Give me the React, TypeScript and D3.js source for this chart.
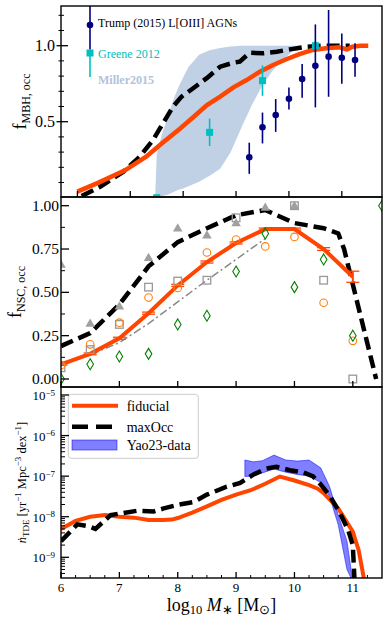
import React from "react";
import * as d3 from "d3";

// top panel: MBH occupation fraction
const fidMbhX = [6.0, 6.4, 6.9, 7.3, 7.6, 7.95, 8.2, 8.45, 8.7, 8.95, 9.2, 9.45, 9.7, 9.95, 10.2, 10.45, 10.7, 10.95, 11.1, 11.2, 11.35, 11.5];
const fidMbhY = [0.04, 0.099, 0.18, 0.27, 0.358, 0.457, 0.533, 0.61, 0.665, 0.726, 0.774, 0.829, 0.873, 0.911, 0.945, 0.972, 0.983, 0.99, 0.976, 0.993, 1.0, 1.0];
const maxMbhX = [6.08, 6.43, 6.87, 7.18, 7.43, 7.62, 7.81, 7.97, 8.19, 8.44, 8.7, 8.95, 9.07, 9.26, 9.51, 9.77, 10.02, 10.33, 10.65, 11.15];
const maxMbhY = [0.011, 0.072, 0.171, 0.27, 0.38, 0.49, 0.6, 0.665, 0.72, 0.785, 0.862, 0.888, 0.895, 0.954, 0.95, 0.96, 0.976, 0.993, 1.0, 1.0];

const millerX = [7.47, 7.5, 7.6, 7.7, 7.8, 7.9, 8.0, 8.1, 8.2, 8.3, 8.5, 8.7, 8.9, 9.1, 9.3, 9.5, 9.7, 9.9, 10.1, 10.25];
const millerLo = [0, 0, 0.01, 0.02, 0.035, 0.05, 0.06, 0.075, 0.09, 0.105, 0.145, 0.19, 0.3, 0.46, 0.61, 0.74, 0.84, 0.91, 0.975, 1.0];
const millerHi = [0, 0.28, 0.42, 0.52, 0.63, 0.72, 0.79, 0.86, 0.9, 0.94, 0.97, 0.985, 0.995, 1.0, 1.0, 1.0, 1.0, 1.0, 1.0, 1.0];

const greeneX = [7.5, 8.5, 9.5, 10.5];
const greeneY = [0.0, 0.43, 0.77, 1.0];
const greeneErr = [0.0, 0.09, 0.1, 0.03];

const trumpX = [9.25, 9.5, 9.75, 10.0, 10.25, 10.5, 10.75, 11.0, 11.25];
const trumpY = [0.266, 0.463, 0.544, 0.651, 0.781, 0.868, 0.928, 0.921, 0.906];
const trumpLo = [0.157, 0.357, 0.433, 0.58, 0.658, 0.594, 0.664, 0.75, 0.796];
const trumpHi = [0.362, 0.56, 0.649, 0.725, 0.88, 1.14, 1.235, 1.08, 1.016];

// middle panel: NSC occupation fraction
const nscX = [6.0, 6.5, 7.0, 7.5, 8.0, 8.5, 9.0, 9.5, 10.0, 10.5, 11.0];
const fidNsc = [0.085, 0.145, 0.235, 0.38, 0.54, 0.675, 0.785, 0.865, 0.865, 0.75, 0.59];
const fidNscErr = [0.005, 0.005, 0.006, 0.006, 0.006, 0.006, 0.006, 0.006, 0.006, 0.008, 0.032];
const maxNscX = [6.0, 6.5, 7.0, 7.5, 8.0, 8.5, 9.0, 9.5, 10.0, 10.5, 10.75, 10.85, 11.4];
const maxNscY = [0.19, 0.265, 0.43, 0.65, 0.79, 0.87, 0.945, 0.975, 0.9, 0.87, 0.84, 0.75, 0.0];
const greyX = [6.0, 6.5, 7.0, 7.5, 8.0, 8.5, 9.0, 9.5];
const greyY = [0.08, 0.14, 0.21, 0.32, 0.445, 0.57, 0.69, 0.81];

const triX = [6.0, 6.5, 7.0, 7.5, 8.0, 8.5, 9.0, 9.5, 10.0];
const triY = [0.66, 0.32, 0.42, 0.7, 0.87, 0.83, 0.9, 0.99, 1.0];
const sqX = [6.0, 6.5, 7.0, 7.5, 8.0, 8.5, 9.0, 10.0, 10.5, 11.0];
const sqY = [0.065, 0.17, 0.315, 0.53, 0.565, 0.57, 0.93, 1.0, 0.57, 0.0];
const circX = [6.0, 6.5, 7.0, 7.5, 8.0, 8.5, 9.0, 9.5, 10.0, 10.5, 11.0];
const circY = [0.08, 0.2, 0.325, 0.47, 0.525, 0.73, 0.805, 0.765, 0.82, 0.44, 0.22];
const diaX = [6.0, 6.5, 7.0, 7.5, 8.0, 8.5, 9.0, 9.5, 10.0, 10.5, 11.0, 11.5];
const diaY = [0.0, 0.085, 0.13, 0.145, 0.315, 0.365, 0.62, 0.84, 0.53, 0.69, 0.25, 1.0];

// bottom panel: TDE rate
const fidTdeX = [6.0, 6.25, 6.5, 6.75, 7.0, 7.25, 7.5, 7.75, 7.9, 8.0, 8.25, 8.5, 8.75, 9.0, 9.25, 9.5, 9.75, 10.0, 10.25, 10.4, 10.5, 10.75, 11.0, 11.1, 11.2];
const fidTdeY = [5.0e-9, 7.9e-9, 1.0e-8, 1.1e-8, 1.0e-8, 9.5e-9, 8.3e-9, 8.3e-9, 8.5e-9, 9.3e-9, 1.26e-8, 1.8e-8, 2.6e-8, 3.5e-8, 4.5e-8, 6.5e-8, 9.8e-8, 7.8e-8, 6.0e-8, 4.9e-8, 3.8e-8, 1.6e-8, 4.3e-9, 1.5e-9, 2.5e-10];
const maxTdeX = [6.0, 6.28, 6.48, 6.59, 6.85, 7.3, 7.59, 7.76, 7.99, 8.27, 8.5, 8.84, 9.07, 9.3, 9.52, 9.69, 9.92, 10.15, 10.32, 10.46, 10.61, 10.78, 10.92, 11.0, 11.03];
const maxTdeY = [2.5e-9, 6.5e-9, 5.8e-9, 5.0e-9, 1.1e-8, 1.4e-8, 1.35e-8, 1.6e-8, 1.95e-8, 2.3e-8, 3.5e-8, 5.5e-8, 6.8e-8, 1.1e-7, 1.55e-7, 1.7e-7, 1.4e-7, 1.25e-7, 9.8e-8, 6.0e-8, 3.2e-8, 1.23e-8, 4.7e-9, 2.0e-9, 2.5e-10];
const yaoX = [9.15, 9.3, 9.45, 9.65, 9.85, 10.05, 10.25, 10.45, 10.6, 10.75, 10.9, 11.0];
const yaoHi = [2.5e-7, 2.25e-7, 2.4e-7, 3.3e-7, 2.5e-7, 2.35e-7, 2.5e-7, 1.6e-7, 5.6e-8, 1.1e-8, 2.5e-9, 2.5e-10];
const yaoLo = [9.8e-8, 1.0e-7, 1.2e-7, 1.5e-7, 1.25e-7, 1.1e-7, 1.0e-7, 7.0e-8, 3.2e-8, 6.3e-9, 5.0e-10, 2.5e-10];

const xTickVals = [6, 7, 8, 9, 10, 11];
const midTicks = [0, 0.25, 0.5, 0.75, 1.0];
const botTicks = [1e-9, 1e-8, 1e-7, 1e-6, 1e-5];
const botTickExp = ["−9", "−8", "−7", "−6", "−5"];

const FONT = "'Liberation Serif', 'Times New Roman', serif";
const ORANGE = "#ff4500";
const L = 61, R = 382;
const T1 = 6, B1 = 197, T2 = 197, B2 = 387, T3 = 387, B3 = 578;

const xTop = d3.scaleLinear().domain([5.69, 11.76]).range([L, R]);
const yTop = d3.scaleLinear().domain([0, 1]).range([197.7, 45.7]);
const xMain = d3.scaleLinear().domain([6, 11.5]).range([L, R]);
const yMid = d3.scaleLinear().domain([0, 1]).range([379, 205.7]);
const yBot = d3.scaleLog().domain([1e-9, 1e-5]).range([557.3, 395]);

const zip = (a: number[], b: number[]) => a.map((v, i) => [v, b[i]] as [number, number]);

const mkLine = (xs: any, ys: any) =>
  d3.line<[number, number]>().x((d) => xs(d[0])).y((d) => ys(d[1]));

const mkArea = (xs: any, ys: any) =>
  d3.area<[number, number, number]>().x((d) => xs(d[0])).y0((d) => ys(d[1])).y1((d) => ys(d[2]));

export default function App() {
  const lineTop = mkLine(xTop, yTop);
  const lineMid = mkLine(xMain, yMid);
  const lineBot = mkLine(xMain, yBot);

  const millerData = millerX.map((x, i) => [x, millerLo[i], millerHi[i]] as [number, number, number]);
  const yaoData = yaoX.map((x, i) => [x, yaoLo[i], yaoHi[i]] as [number, number, number]);

  const midMinor = d3.range(0.125, 1, 0.25);
  const topMinor = d3.range(1, 13).map((v) => v / 10).filter((v) => v !== 0.5 && v !== 1.0);
  const botMinor: number[] = [];
  for (let e = -10; e < -5; e++) for (let m = 2; m < 10; m++) {
    const v = m * Math.pow(10, e);
    if (yBot(v) > T3 && yBot(v) < B3) botMinor.push(v);
  }
  const xMinor = d3.range(6, 11.5, 0.25).filter((v) => v % 1 !== 0);

  const tri = (cx: number, cy: number, s = 5) => `M${cx},${cy - s}L${cx + s * 0.95},${cy + s * 0.65}L${cx - s * 0.95},${cy + s * 0.65}Z`;
  const dia = (cx: number, cy: number) => `M${cx},${cy - 5.5}L${cx + 3.3},${cy}L${cx},${cy + 5.5}L${cx - 3.3},${cy}Z`;

  return (
    <svg width={390} height={622} style={{ position: "absolute", left: 0, top: 0, background: "white" }} fontFamily={FONT}>
      <defs>
        <clipPath id="cTop"><rect x={L} y={T1} width={R - L} height={B1 - T1} /></clipPath>
        <clipPath id="cMid"><rect x={L} y={T2} width={R - L} height={B2 - T2} /></clipPath>
        <clipPath id="cBot"><rect x={L} y={T3} width={R - L} height={B3 - T3} /></clipPath>
      </defs>

      {/* ===== top panel ===== */}
      <g clipPath="url(#cTop)">
        <path d={mkArea(xTop, yTop)(millerData) || ""} fill="#b0c4de" opacity={0.8} />
        <path d={lineTop(zip(maxMbhX, maxMbhY)) || ""} fill="none" stroke="black" strokeWidth={4.5} strokeDasharray="13 6" />
        <path d={lineTop(zip(fidMbhX, fidMbhY)) || ""} fill="none" stroke={ORANGE} strokeWidth={4.5} />
        {greeneX.map((x, i) => (
          <g key={"g" + i}>
            <line x1={xTop(x)} x2={xTop(x)} y1={yTop(greeneY[i] - greeneErr[i])} y2={yTop(greeneY[i] + greeneErr[i])} stroke="#00bfbf" strokeWidth={1.6} />
            <rect x={xTop(x) - 3.5} y={yTop(greeneY[i]) - 3.5} width={7} height={7} fill="#00bfbf" />
          </g>
        ))}
        {trumpX.map((x, i) => (
          <g key={"t" + i}>
            <line x1={xTop(x)} x2={xTop(x)} y1={yTop(trumpLo[i])} y2={yTop(trumpHi[i])} stroke="#000080" strokeWidth={1.6} />
            <circle cx={xTop(x)} cy={yTop(trumpY[i])} r={3.3} fill="#000080" />
          </g>
        ))}
        {/* legend */}
        <line x1={90} x2={90} y1={49} y2={77} stroke="#00bfbf" strokeWidth={1.6} />
        <rect x={86.5} y={49.5} width={7} height={7} fill="#00bfbf" />
        <line x1={90} x2={90} y1={T1} y2={49} stroke="#000080" strokeWidth={1.6} />
        <circle cx={90} cy={25} r={3.3} fill="#000080" />
      </g>
      <text x={98} y={27} fontSize={12} fill="black">Trump (2015) L[OIII] AGNs</text>
      <text x={98} y={58} fontSize={12} fill="#00bfbf">Greene 2012</text>
      <text x={98} y={84} fontSize={12} fill="#b0c4de" fontWeight="bold">Miller2015</text>

      {topMinor.map((v) => (
        <line key={"tm" + v} x1={L - 2.5} x2={L + 3} y1={yTop(v)} y2={yTop(v)} stroke="black" strokeWidth={1} />
      ))}
      {[0.5, 1.0].map((v) => (
        <g key={"tM" + v}>
          <line x1={L - 4.5} x2={L + 7} y1={yTop(v)} y2={yTop(v)} stroke="black" strokeWidth={1.3} />
          <text x={55} y={yTop(v) + 5.5} fontSize={16} textAnchor="end">{v.toFixed(1)}</text>
        </g>
      ))}
      {xTickVals.map((v) => (
        <line key={"tx" + v} x1={xTop(v)} x2={xTop(v)} y1={B1} y2={B1 - 6} stroke="black" strokeWidth={1.3} />
      ))}
      <text transform={`translate(26,${(T1 + B1) / 2}) rotate(-90)`} textAnchor="middle" fontSize={18}>
        f<tspan fontSize={12} dy={4}>MBH, occ</tspan>
      </text>

      {/* ===== middle panel ===== */}
      <g clipPath="url(#cMid)">
        <path d={lineMid(zip(greyX, greyY)) || ""} fill="none" stroke="#888" strokeWidth={1.5} strokeDasharray="8 3 2 3" />
        <path d={lineMid(zip(maxNscX, maxNscY)) || ""} fill="none" stroke="black" strokeWidth={4.5} strokeDasharray="13 6" />
        <path d={lineMid(zip(nscX, fidNsc)) || ""} fill="none" stroke={ORANGE} strokeWidth={4} />
        {nscX.map((x, i) => (
          <g key={"e" + i} stroke={ORANGE} strokeWidth={1.3}>
            <line x1={xMain(x)} x2={xMain(x)} y1={yMid(fidNsc[i] - fidNscErr[i])} y2={yMid(fidNsc[i] + fidNscErr[i])} strokeWidth={2} />
            <line x1={xMain(x) - 6.5} x2={xMain(x) + 6.5} y1={yMid(fidNsc[i] - fidNscErr[i])} y2={yMid(fidNsc[i] - fidNscErr[i])} />
            <line x1={xMain(x) - 6.5} x2={xMain(x) + 6.5} y1={yMid(fidNsc[i] + fidNscErr[i])} y2={yMid(fidNsc[i] + fidNscErr[i])} />
          </g>
        ))}
        {sqX.map((x, i) => (
          <rect key={"s" + i} x={xMain(x) - 3.8} y={yMid(sqY[i]) - 3.8} width={7.6} height={7.6} fill="none" stroke="#999" strokeWidth={1.3} />
        ))}
        {circX.map((x, i) => (
          <circle key={"c" + i} cx={xMain(x)} cy={yMid(circY[i])} r={3.8} fill="none" stroke="#ff7f0e" strokeWidth={1.1} />
        ))}
        {diaX.map((x, i) => (
          <path key={"d" + i} d={dia(xMain(x), yMid(diaY[i]))} fill="none" stroke="green" strokeWidth={1.1} />
        ))}
        {triX.map((x, i) => (
          <path key={"tr" + i} d={tri(xMain(x), yMid(triY[i]))} fill="#a0a0a0" />
        ))}
      </g>
      {midTicks.map((v) => (
        <g key={"mM" + v}>
          <line x1={L} x2={L + 8} y1={yMid(v)} y2={yMid(v)} stroke="black" strokeWidth={1.3} />
          <text x={59} y={yMid(v) + 5} fontSize={15.5} textAnchor="end">{v.toFixed(2)}</text>
        </g>
      ))}
      {midMinor.map((v) => (
        <line key={"mm" + v} x1={L} x2={L + 4} y1={yMid(v)} y2={yMid(v)} stroke="black" strokeWidth={1} />
      ))}
      {xTickVals.map((v) => (
        <line key={"mx" + v} x1={xMain(v)} x2={xMain(v)} y1={B2} y2={B2 - 6} stroke="black" strokeWidth={1.3} />
      ))}
      <text transform={`translate(21,${(T2 + B2) / 2}) rotate(-90)`} textAnchor="middle" fontSize={18}>
        f<tspan fontSize={12} dy={4}>NSC, occ</tspan>
      </text>

      {/* ===== bottom panel ===== */}
      <g clipPath="url(#cBot)">
        <path d={mkArea(xMain, yBot)(yaoData) || ""} fill="blue" fillOpacity={0.5} stroke="blue" strokeOpacity={0.5} strokeWidth={1} />
        <path d={lineBot(zip(fidTdeX, fidTdeY)) || ""} fill="none" stroke={ORANGE} strokeWidth={4} />
        <path d={lineBot(zip(maxTdeX, maxTdeY)) || ""} fill="none" stroke="black" strokeWidth={4.5} strokeDasharray="13 6" />
      </g>
      {/* legend */}
      <rect x={68.3} y={394.3} width={130} height={64} rx={3} fill="white" fillOpacity={0.8} stroke="#ccc" strokeWidth={1} />
      <line x1={72} x2={118} y1={405.7} y2={405.7} stroke={ORANGE} strokeWidth={4} />
      <text x={126.7} y={410.5} fontSize={14}>fiducial</text>
      <line x1={72} x2={118} y1={426.7} y2={426.7} stroke="black" strokeWidth={4.5} strokeDasharray="16 8" />
      <text x={126.7} y={431.5} fontSize={14}>maxOcc</text>
      <rect x={72} y={440} width={45} height={10} fill="blue" fillOpacity={0.5} stroke="blue" strokeOpacity={0.5} />
      <text x={126.7} y={450} fontSize={14}>Yao23-data</text>

      {botTicks.map((v, i) => (
        <g key={"bM" + i}>
          <line x1={L} x2={L + 8} y1={yBot(v)} y2={yBot(v)} stroke="black" strokeWidth={1.3} />
          <text x={55} y={yBot(v) + 5} fontSize={13} textAnchor="end">
            10<tspan fontSize={9} dy={-4.5}>{botTickExp[i]}</tspan>
          </text>
        </g>
      ))}
      {botMinor.map((v, i) => (
        <line key={"bm" + i} x1={L} x2={L + 4} y1={yBot(v)} y2={yBot(v)} stroke="black" strokeWidth={1} />
      ))}
      {xTickVals.map((v) => (
        <g key={"bx" + v}>
          <line x1={xMain(v)} x2={xMain(v)} y1={B3} y2={B3 - 6} stroke="black" strokeWidth={1.3} />
          <text x={xMain(v)} y={592} fontSize={13} textAnchor="middle">{v}</text>
        </g>
      ))}
      {xMinor.map((v) => (
        <line key={"bxm" + v} x1={xMain(v)} x2={xMain(v)} y1={B3} y2={B3 - 3} stroke="black" strokeWidth={1} />
      ))}
      <text transform={`translate(26,${(T3 + B3) / 2}) rotate(-90)`} textAnchor="middle" fontSize={12.5}>
        <tspan fontStyle="italic">ṅ</tspan>
        <tspan fontSize={9} dy={3}>TDE</tspan>
        <tspan dy={-3}> [yr</tspan>
        <tspan fontSize={9} dy={-5}>−1</tspan>
        <tspan dy={5}> Mpc</tspan>
        <tspan fontSize={9} dy={-5}>−3</tspan>
        <tspan dy={5}> dex</tspan>
        <tspan fontSize={9} dy={-5}>−1</tspan>
        <tspan dy={5}>]</tspan>
      </text>
      <text x={(L + R) / 2} y={611} textAnchor="middle" fontSize={18}>
        log<tspan fontSize={12.5} dy={3}>10</tspan>
        <tspan dy={-3} fontStyle="italic"> M</tspan>
        <tspan fontSize={12.5} dy={3}>∗</tspan>
        <tspan dy={-3}> [M</tspan>
        <tspan fontSize={12.5} dy={3}>⊙</tspan>
        <tspan dy={-3}>]</tspan>
      </text>

      {/* spines */}
      <rect x={L} y={T1} width={R - L} height={B1 - T1} fill="none" stroke="black" strokeWidth={1.4} />
      <rect x={L} y={T2} width={R - L} height={B2 - T2} fill="none" stroke="black" strokeWidth={1.4} />
      <rect x={L} y={T3} width={R - L} height={B3 - T3} fill="none" stroke="black" strokeWidth={1.4} />
    </svg>
  );
}
